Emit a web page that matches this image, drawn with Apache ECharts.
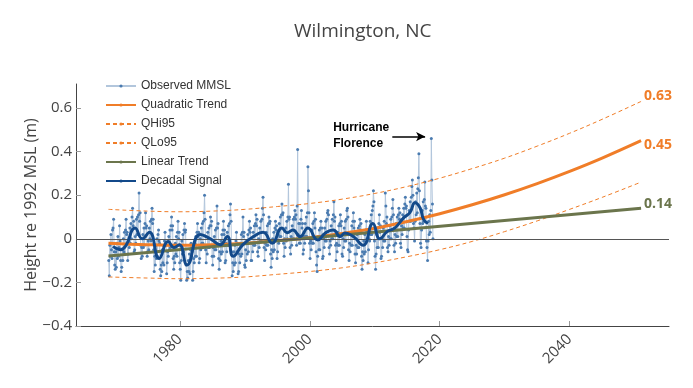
<!DOCTYPE html>
<html><head><meta charset="utf-8">
<script src="https://cdn.jsdelivr.net/npm/echarts@6/dist/echarts.min.js"></script>
<style>html,body{margin:0;padding:0;background:#fff}#c{width:693px;height:388px}</style>
</head><body><div id="c"></div>
<script>
const chartTitle = 'Wilmington, NC';
const yAxisTitle = 'Height re 1992 MSL (m)';
const xTickValues = [1980, 2000, 2020, 2040];
const yTickValues = [-0.4, -0.2, 0, 0.2, 0.4, 0.6];
const seriesNames = ['Observed MMSL', 'Quadratic Trend', 'QHi95', 'QLo95', 'Linear Trend', 'Decadal Signal'];

// Observed monthly mean sea level, Jan 1969 .. Dec 2018 (m)
const obsStartYear = 1969;
const obsValues = [
-0.10,-0.17,-0.03,-0.08,0.02,-0.05,-0.09,0.04,0.05,0.09,-0.06,-0.12,
-0.14,-0.06,-0.13,-0.02,-0.09,0.01,-0.08,-0.04,0.06,-0.01,-0.10,-0.15,
-0.13,-0.05,-0.10,0.00,-0.06,0.03,-0.07,0.04,0.09,0.02,0.03,-0.10,
-0.07,-0.01,-0.04,0.05,-0.02,0.07,0.00,0.10,0.14,0.06,0.08,-0.06,
-0.05,0.01,-0.02,0.09,0.02,0.10,0.02,0.11,0.21,0.08,0.12,-0.03,
-0.09,-0.04,-0.08,0.02,-0.04,0.05,-0.03,0.07,0.12,0.05,0.06,-0.08,
-0.06,-0.01,-0.05,0.05,0.00,0.08,-0.01,0.09,0.14,0.07,0.09,-0.05,
-0.15,-0.08,-0.12,-0.03,-0.09,0.00,-0.08,0.02,0.04,-0.01,-0.02,-0.14,
-0.17,-0.12,-0.15,-0.05,-0.11,-0.03,-0.12,-0.01,0.03,-0.02,-0.03,-0.16,
-0.11,-0.06,-0.08,0.01,-0.05,0.04,-0.04,0.06,0.10,0.04,0.06,-0.09,
-0.14,-0.08,-0.11,-0.02,-0.07,0.01,-0.08,0.03,0.08,0.00,0.03,-0.11,
-0.14,-0.19,-0.10,-0.01,-0.07,0.02,-0.06,0.04,0.07,0.03,0.04,-0.12,
-0.19,-0.15,-0.18,-0.10,-0.15,-0.07,-0.16,-0.05,-0.02,-0.08,-0.06,-0.19,
-0.15,-0.09,-0.11,-0.02,-0.08,0.01,-0.08,0.03,0.07,0.01,0.03,-0.11,
-0.09,0.00,-0.05,0.05,-0.02,0.07,-0.02,0.08,0.12,0.20,0.09,-0.05,
-0.11,-0.03,-0.07,0.03,-0.04,0.05,-0.04,0.06,0.10,0.06,0.08,-0.08,
-0.12,-0.04,-0.08,0.01,-0.05,0.04,-0.05,0.05,0.15,0.05,0.07,-0.09,
-0.14,-0.06,-0.10,-0.01,-0.07,0.02,-0.06,0.04,0.08,0.02,0.04,-0.11,
-0.10,-0.02,-0.06,0.03,-0.03,0.06,-0.03,0.07,0.11,0.16,0.08,-0.06,
-0.17,-0.11,-0.15,-0.06,-0.12,-0.03,-0.11,-0.01,0.03,-0.06,-0.02,-0.16,
-0.15,-0.07,-0.11,-0.02,-0.08,0.02,-0.07,0.03,0.10,0.01,0.03,-0.12,
-0.13,-0.05,-0.10,-0.01,-0.07,0.02,-0.06,0.04,0.08,0.03,0.05,-0.10,
-0.10,-0.02,-0.06,0.03,-0.03,0.06,-0.03,0.07,0.11,0.06,0.09,-0.06,
-0.08,0.00,-0.04,0.05,-0.01,0.08,-0.01,0.09,0.14,0.19,0.11,-0.04,
-0.10,-0.02,-0.05,0.03,-0.03,0.06,-0.03,0.07,0.10,0.07,0.08,-0.07,
-0.13,-0.05,-0.09,0.00,-0.06,0.03,-0.05,0.05,0.08,0.04,0.06,-0.09,
-0.06,0.02,-0.02,0.07,0.01,0.10,0.01,0.11,0.16,0.11,0.12,-0.02,
-0.08,0.00,-0.04,0.05,-0.01,0.08,0.00,0.10,0.25,0.09,0.10,-0.04,
-0.07,0.01,-0.03,0.06,0.00,0.09,0.00,0.10,0.13,0.09,0.11,-0.03,
0.15,0.41,0.02,0.07,-0.02,0.07,-0.02,0.09,0.13,0.05,0.07,-0.07,
-0.05,0.01,-0.02,0.07,0.01,0.10,0.01,0.12,0.33,0.22,0.12,-0.02,
-0.09,-0.01,-0.05,0.04,-0.02,0.07,-0.02,0.08,0.12,0.05,0.09,-0.06,
-0.12,-0.15,-0.08,0.01,-0.05,0.04,-0.05,0.05,0.08,0.01,0.05,-0.09,
-0.08,0.00,-0.04,0.05,-0.01,0.08,-0.01,0.09,0.12,0.13,0.11,-0.04,
-0.07,-0.01,-0.03,0.06,0.00,0.09,0.00,0.11,0.17,0.08,0.10,-0.03,
-0.10,-0.02,-0.06,0.03,-0.03,0.06,-0.03,0.07,0.11,0.06,0.08,-0.07,
-0.08,0.00,-0.04,0.05,-0.01,0.08,-0.01,0.09,0.13,0.14,0.10,-0.05,
-0.10,-0.02,-0.06,0.03,-0.03,0.06,-0.03,0.08,0.12,0.05,0.08,-0.07,
-0.11,-0.03,-0.07,0.02,-0.04,0.05,-0.04,0.06,0.09,0.04,0.07,-0.08,
-0.14,-0.06,-0.10,-0.01,-0.07,0.02,-0.06,0.04,0.08,0.00,0.03,-0.11,
-0.05,0.00,-0.01,0.08,0.02,0.11,0.02,0.13,0.15,0.22,0.17,-0.01,
-0.08,-0.14,-0.07,0.02,-0.04,0.05,-0.04,0.07,0.11,0.03,0.06,-0.09,
-0.08,0.00,-0.04,0.05,-0.01,0.08,-0.01,0.21,0.15,0.07,0.10,-0.04,
-0.06,0.01,-0.03,0.06,0.00,0.09,0.00,0.10,0.14,0.18,0.11,-0.03,
-0.06,0.02,-0.02,0.07,0.01,0.10,0.01,0.11,0.14,0.09,0.12,-0.02,
-0.04,0.06,0.02,0.11,0.05,0.14,0.05,0.16,0.19,0.14,0.15,0.01,
-0.05,-0.06,0.04,0.13,0.08,0.17,0.08,0.19,0.24,0.27,0.20,0.07,
0.05,-0.01,0.08,0.17,0.11,0.21,0.12,0.23,0.28,0.39,0.22,0.07,
-0.02,-0.04,0.04,0.13,0.07,0.17,0.08,0.18,0.26,0.15,0.14,-0.01,
-0.04,-0.10,-0.01,0.08,0.02,0.11,0.03,0.13,0.46,0.27,0.16,0.00
];

// Trend curves sampled along the time axis (m)
const trendYears = [1969,1975,1980,1985,1990,1995,2000,2005,2010,2015,2020,2025,2030,2035,2040,2045,2051];
const quadValues = [-0.020,-0.027,-0.030,-0.027,-0.020,-0.008,0.005,0.024,0.048,0.079,0.115,0.156,0.202,0.253,0.309,0.370,0.45];
const qhiValues  = [0.135,0.127,0.124,0.127,0.135,0.148,0.162,0.182,0.208,0.240,0.278,0.322,0.370,0.425,0.484,0.548,0.63];
const qloValues  = [-0.175,-0.180,-0.183,-0.181,-0.175,-0.163,-0.150,-0.133,-0.110,-0.082,-0.050,-0.012,0.033,0.082,0.135,0.190,0.26];
const linearYears = [1969, 2051];
const linearValues = [-0.079, 0.14];

// Decadal signal
const decadalYears = [1969.7,1970.8,1971.6,1973.1,1974.2,1975.3,1976.8,1978.2,1979.1,1979.9,1981.1,1983.1,1984.7,1986.2,1987.3,1988.2,1989.7,1991.3,1992.8,1994.2,1995.7,1996.5,1997.4,1998.5,1999.7,2001.2,2002.4,2003.6,2004.7,2005.4,2006.7,2008.2,2009.7,2010.8,2011.9,2013.1,2014.4,2015.4,2016.2,2017.0,2017.5,2018.2];
const decadalValues = [-0.035,-0.05,-0.035,0.05,0.0,0.03,-0.09,-0.012,-0.04,-0.027,-0.12,0.02,0.0,-0.027,0.01,-0.08,-0.027,0.01,0.03,-0.02,0.05,0.028,0.04,0.01,0.05,-0.005,0.027,0.04,0.01,0.027,0.01,-0.03,0.07,0.0,0.033,0.05,0.095,0.12,0.165,0.14,0.09,0.07];

const annotationLabel = 'Hurricane\nFlorence';

const zip = (xs, ys) => xs.map((x, i) => [x, ys[i]]);
const obsData = obsValues.map((v, i) => [obsStartYear + (i + 0.5) / 12, v]);

const ORANGE = '#f07d28', OLIVE = '#6b754c', NAVY = '#12498a';
const FONT = '"Open Sans", "DejaVu Sans", sans-serif';
const fmtY = v => (v === 0 ? '0' : String(Math.round(v * 10) / 10).replace('-', '\u2212'));
const endLbl = (color, dy) => ({
  show: true, distance: 3, offset: [0, dy], color: color, fontFamily: FONT, fontSize: 14, fontWeight: 'bold',
  formatter: p => p.value[1].toFixed(2)
});

const chart = echarts.init(document.getElementById('c'), null, {renderer: 'canvas'});
const option = {
  animation: false,
  backgroundColor: '#fff',
  title: { text: chartTitle, left: 289, top: 17, textStyle: { fontFamily: FONT, fontSize: 19, fontWeight: 'normal', color: '#444' } },
  grid: { left: 76, right: 24, top: 84, bottom: 62, containLabel: false },
  legend: {
    orient: 'vertical', left: 100, top: 75, itemWidth: 30, itemHeight: 4, itemGap: 7,
    textStyle: { fontFamily: '"Liberation Sans", Arial, sans-serif', fontSize: 12, color: '#333' },
    data: seriesNames
  },
  xAxis: {
    type: 'value', min: 1964, max: 2055.3,
    axisLine: { show: true, onZero: false, lineStyle: { color: '#444', width: 1 } },
    axisTick: { show: true, inside: true, length: 5, lineStyle: { color: '#999' }, customValues: xTickValues },
    axisLabel: { rotate: 45, margin: 11, fontFamily: FONT, fontSize: 15, color: '#444', customValues: xTickValues, formatter: v => String(v) },
    splitLine: { show: false }
  },
  yAxis: {
    type: 'value', min: -0.4, max: 0.71,
    name: yAxisTitle, nameLocation: 'middle', nameGap: 37, nameMoveOverlap: false,
    nameTextStyle: { fontFamily: FONT, fontSize: 16, color: '#444' },
    axisLine: { show: true, onZero: false, lineStyle: { color: '#444', width: 1 } },
    axisTick: { show: true, inside: true, length: 5, lineStyle: { color: '#999' }, customValues: yTickValues },
    axisLabel: { margin: 4, fontFamily: FONT, fontSize: 15, color: '#444', customValues: yTickValues, formatter: fmtY },
    splitLine: { show: false }
  },
  series: [
    {
      name: seriesNames[0], type: 'line', data: obsData, symbol: 'circle', symbolSize: 3, showAllSymbol: true,
      lineStyle: { color: '#b2c6dc', width: 1 }, itemStyle: { color: '#4a7bb0' }, z: 1,
      markLine: {
        silent: true, animation: false,
        data: [
          [{ coord: [1964, 0], symbol: 'none', lineStyle: { color: '#555', width: 1, type: 'solid' } },
           { coord: [2055.3, 0], symbol: 'none' }],
          [{ coord: [2012.7, 0.469], symbol: 'none', lineStyle: { color: '#000', width: 1.5, type: 'solid' } },
           { coord: [2017.75, 0.469], symbol: 'arrow', symbolSize: [7, 9] }]
        ],
        label: { show: false }
      }
    },
    { name: seriesNames[1], type: 'line', data: zip(trendYears, quadValues), smooth: 0.4, symbol: 'none',
      lineStyle: { color: ORANGE, width: 3 }, itemStyle: { color: ORANGE }, z: 3, endLabel: endLbl(ORANGE, 4) },
    { name: seriesNames[2], type: 'line', data: zip(trendYears, qhiValues), smooth: 0.4, symbol: 'none',
      lineStyle: { color: ORANGE, width: 1, type: [4, 3] }, itemStyle: { color: ORANGE }, z: 2, endLabel: endLbl(ORANGE, -5) },
    { name: seriesNames[3], type: 'line', data: zip(trendYears, qloValues), smooth: 0.4, symbol: 'none',
      lineStyle: { color: ORANGE, width: 1, type: [4, 3] }, itemStyle: { color: ORANGE }, z: 2 },
    { name: seriesNames[4], type: 'line', data: zip(linearYears, linearValues), symbol: 'none',
      lineStyle: { color: OLIVE, width: 3 }, itemStyle: { color: OLIVE }, z: 4, endLabel: endLbl(OLIVE, -4) },
    { name: seriesNames[5], type: 'line', data: zip(decadalYears, decadalValues), smooth: 0.5, symbol: 'none',
      lineStyle: { color: NAVY, width: 3 }, itemStyle: { color: NAVY }, z: 5 }
  ]
};
chart.setOption(option);
const tp = chart.convertToPixel({ gridIndex: 0 }, [2003.6, 0.545]);
chart.setOption({
  graphic: [{
    type: 'text', x: tp[0], y: tp[1], z: 100,
    style: { text: annotationLabel, font: 'bold 12px "Liberation Sans", Arial, sans-serif', fill: '#000', lineHeight: 16, verticalAlign: 'top', align: 'left' }
  }]
});
</script>
</body></html>
